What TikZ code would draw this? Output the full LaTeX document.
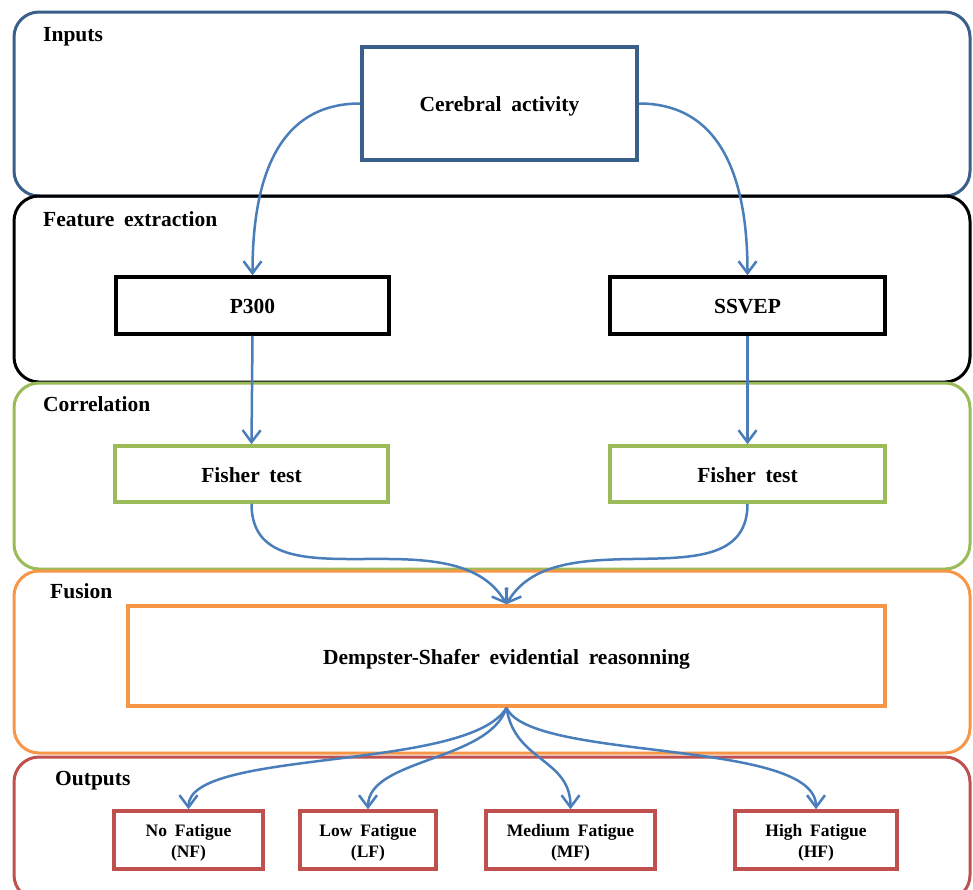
\documentclass[tikz,border=0pt]{standalone}
\usepackage{fontspec}
\setmainfont[WordSpace=1.8]{Liberation Serif}
\usetikzlibrary{arrows.meta,calc}
\definecolor{inblue}{HTML}{3A5F8B}
\definecolor{corgreen}{HTML}{9BBB59}
\definecolor{fusorange}{HTML}{F79646}
\definecolor{outred}{HTML}{C0504D}
\definecolor{arrblue}{HTML}{4A7EBB}
\newcommand{\twoline}[2]{\begin{tabular}[t]{@{}c@{}}#1\\#2\end{tabular}}
\begin{document}
\begin{tikzpicture}[x=1pt,y=-1pt,
 band/.style={line width=3pt, rounded corners=25pt},
 box/.style={draw, rectangle, line width=3.5pt, inner sep=0pt,
   text height=16pt, text depth=0pt,
   font=\fontsize{21.5}{25}\selectfont\bfseries},
 obox/.style={draw=outred, rectangle, line width=3.5pt, inner sep=0pt,
   minimum height=58pt, text height=10pt, text depth=18pt,
   font=\fontsize{17.5}{21}\selectfont\bfseries},
 lbl/.style={anchor=base west, inner sep=0pt, font=\fontsize{21.5}{25}\selectfont\bfseries},
 conn/.style={draw=arrblue, line width=2.5pt,
   -{Straight Barb[length=12pt,width=18pt,line width=2.5pt]}}]
\useasboundingbox (0,0) rectangle (973,889);
\fill[white] (0,0) rectangle (973,889);
\begin{scope}
\clip (0,0) rectangle (973,889);
% bands
\draw[band, draw=inblue] (14,12) rectangle (970,196);
\draw[band, draw=black] (14,196) rectangle (970,382);
\draw[band, draw=corgreen] (14,383) rectangle (970,569);
\draw[band, draw=fusorange] (14,571) rectangle (970,753);
\draw[band, draw=outred] (14,757) rectangle (970,900);
\end{scope}
% band labels
\node[lbl] (linp) at (43,41) {Inputs};
\node[lbl] (lfeat) at (43,226.7) {Feature extraction};
\node[lbl] (lcorr) at (43,411.7) {Correlation};
\node[lbl] (lfus) at (50,598.3) {Fusion};
\node[lbl] (lout) at (55,785) {Outputs};
% boxes
\node[box, draw=inblue, line width=4pt, minimum width=275pt, minimum height=113pt] (cer) at (499.5,103.5) {Cerebral activity};
\node[box, draw=black, minimum width=273pt, minimum height=57pt] (p300) at (252.5,305.5) {P300};
\node[box, draw=black, minimum width=275pt, minimum height=57pt] (ssvep) at (747.5,305.5) {SSVEP};
\node[box, draw=corgreen, minimum width=273pt, minimum height=56pt] (f1) at (251.5,474) {Fisher test};
\node[box, draw=corgreen, minimum width=275pt, minimum height=56pt] (f2) at (747.5,474) {Fisher test};
\node[box, draw=fusorange, minimum width=757pt, minimum height=100pt] (dem) at (506.5,656) {Dempster-Shafer evidential reasonning};
\node[obox, minimum width=149pt] (nf) at (188.5,840) {\twoline{No Fatigue}{(NF)}};
\node[obox, minimum width=136pt] (lf) at (368,840) {\twoline{Low Fatigue}{(LF)}};
\node[obox, minimum width=169pt] (mf) at (570.5,840) {\twoline{Medium Fatigue}{(MF)}};
\node[obox, minimum width=162pt] (hf) at (816,840) {\twoline{High Fatigue}{(HF)}};
% connectors
\draw[conn] (cer.west) to[out=180,in=90,looseness=1.1] (p300.north);
\draw[conn] (cer.east) to[out=0,in=90,looseness=1.1] (ssvep.north);
\draw[conn] (p300.south) -- (f1.north);
\draw[conn] (ssvep.south) -- (f2.north);
\draw[conn] (f1.south) to[out=-90,in=120] (dem.north);
\draw[conn] (f2.south) to[out=-90,in=60] (dem.north);
\draw[conn] (dem.south) .. controls ($(dem.south)+(-38,64)$) and ($(nf.north)+(0,-61)$) .. (nf.north);
\draw[conn] (dem.south) .. controls ($(dem.south)+(-18,54)$) and ($(lf.north)+(0,-51)$) .. (lf.north);
\draw[conn] (dem.south) .. controls ($(dem.south)+(8,54)$) and ($(mf.north)+(0,-51)$) .. (mf.north);
\draw[conn] (dem.south) .. controls ($(dem.south)+(24,54)$) and ($(hf.north)+(0,-71)$) .. (hf.north);
\end{tikzpicture}
\end{document}
